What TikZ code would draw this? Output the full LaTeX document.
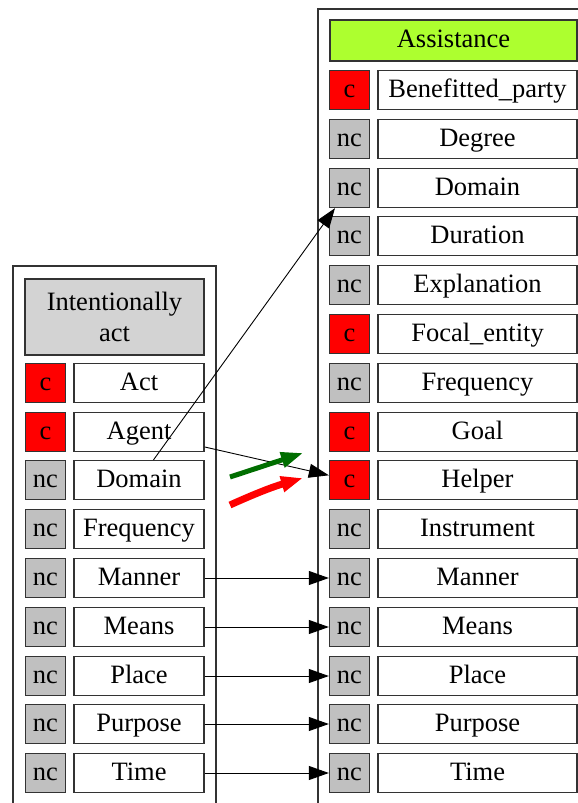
\documentclass[tikz,border=0pt]{standalone}
\usepackage{fontspec}
\setmainfont{Liberation Serif}
\usetikzlibrary{arrows.meta}
\pgfdeclarelayer{framelayer}
\pgfdeclarelayer{nodelayer}
\pgfdeclarelayer{edgelayer}
\pgfsetlayers{framelayer,nodelayer,edgelayer,main}
\definecolor{tag gray}{RGB}{192,192,192}
\definecolor{head gray}{RGB}{211,211,211}
\definecolor{head green}{RGB}{173,255,47}
\definecolor{mark green}{RGB}{0,110,0}
\tikzstyle{frame}=[draw=black!80, line width=1.3pt]
\tikzstyle{field}=[fill=white, draw=black!80, line width=1.3pt, shape=rectangle, inner sep=0pt, minimum height=39pt, text height=18.5pt, text depth=4.5pt, font=\fontsize{26.5}{31}\selectfont]
\tikzstyle{left field}=[field, minimum width=130pt]
\tikzstyle{right field}=[field, minimum width=199pt]
\tikzstyle{c tag}=[field, fill=red, minimum width=40pt]
\tikzstyle{nc tag}=[field, fill=tag gray, minimum width=40pt]
\tikzstyle{role edge}=[draw=black, line width=0.9pt, -{Triangle[length=20pt,width=14pt]}]
\tikzstyle{mark arrow}=[line width=5pt, -{Triangle[length=22pt,width=15pt]}]

\begin{document}
\begin{tikzpicture}[x=1pt, y=-1pt]
	\useasboundingbox (0,0) rectangle (578,803);
	\begin{pgfonlayer}{framelayer}
		\draw [style=frame] (13,266) rectangle (216,830);
		\draw [style=frame] (318,9) rectangle (600,830);
	\end{pgfonlayer}
	\begin{pgfonlayer}{nodelayer}
		% Assistance
		\node [style=field, fill=head green, minimum width=247pt, minimum height=41pt] (assist) at (453.5, 40.5) {Assistance};
		\node [style=c tag] (rt-benefit) at (349.5, 90) {c};
		\node [style=right field] (r-benefit) at (477.5, 90) {Benefitted\_party};
		\node [style=nc tag] (rt-degree) at (349.5, 139) {nc};
		\node [style=right field] (r-degree) at (477.5, 139) {Degree};
		\node [style=nc tag] (rt-domain) at (349.5, 188) {nc};
		\node [style=right field] (r-domain) at (477.5, 188) {Domain};
		\node [style=nc tag] (rt-duration) at (349.5, 236) {nc};
		\node [style=right field] (r-duration) at (477.5, 236) {Duration};
		\node [style=nc tag] (rt-explain) at (349.5, 285) {nc};
		\node [style=right field] (r-explain) at (477.5, 285) {Explanation};
		\node [style=c tag] (rt-focal) at (349.5, 334) {c};
		\node [style=right field] (r-focal) at (477.5, 334) {Focal\_entity};
		\node [style=nc tag] (rt-freq) at (349.5, 383) {nc};
		\node [style=right field] (r-freq) at (477.5, 383) {Frequency};
		\node [style=c tag] (rt-goal) at (349.5, 432) {c};
		\node [style=right field] (r-goal) at (477.5, 432) {Goal};
		\node [style=c tag] (rt-helper) at (349.5, 480) {c};
		\node [style=right field] (r-helper) at (477.5, 480) {Helper};
		\node [style=nc tag] (rt-instr) at (349.5, 529) {nc};
		\node [style=right field] (r-instr) at (477.5, 529) {Instrument};
		\node [style=nc tag] (rt-manner) at (349.5, 578) {nc};
		\node [style=right field] (r-manner) at (477.5, 578) {Manner};
		\node [style=nc tag] (rt-means) at (349.5, 627) {nc};
		\node [style=right field] (r-means) at (477.5, 627) {Means};
		\node [style=nc tag] (rt-place) at (349.5, 676) {nc};
		\node [style=right field] (r-place) at (477.5, 676) {Place};
		\node [style=nc tag] (rt-purpose) at (349.5, 724) {nc};
		\node [style=right field] (r-purpose) at (477.5, 724) {Purpose};
		\node [style=nc tag] (rt-time) at (349.5, 773) {nc};
		\node [style=right field] (r-time) at (477.5, 773) {Time};
		% Intentionally act
		\node [style=field, fill=head gray, minimum width=179pt, minimum height=76pt, align=center, text height=, text depth=] (intact) at (114.5, 317) {Intentionally\\act};
		\node [style=c tag] (lt-act) at (45.5, 383) {c};
		\node [style=left field] (l-act) at (139, 383) {Act};
		\node [style=c tag] (lt-agent) at (45.5, 432) {c};
		\node [style=left field] (l-agent) at (139, 432) {Agent};
		\node [style=nc tag] (lt-domain) at (45.5, 480) {nc};
		\node [style=left field] (l-domain) at (139, 480) {Domain};
		\node [style=nc tag] (lt-freq) at (45.5, 529) {nc};
		\node [style=left field] (l-freq) at (139, 529) {Frequency};
		\node [style=nc tag] (lt-manner) at (45.5, 578) {nc};
		\node [style=left field] (l-manner) at (139, 578) {Manner};
		\node [style=nc tag] (lt-means) at (45.5, 627) {nc};
		\node [style=left field] (l-means) at (139, 627) {Means};
		\node [style=nc tag] (lt-place) at (45.5, 676) {nc};
		\node [style=left field] (l-place) at (139, 676) {Place};
		\node [style=nc tag] (lt-purpose) at (45.5, 724) {nc};
		\node [style=left field] (l-purpose) at (139, 724) {Purpose};
		\node [style=nc tag] (lt-time) at (45.5, 773) {nc};
		\node [style=left field] (l-time) at (139, 773) {Time};
		\coordinate (g0) at (230, 477);
		\coordinate (g1) at (303, 453);
		\coordinate (red0) at (230, 505);
		\coordinate (red1) at (303, 478);
	\end{pgfonlayer}
	\begin{pgfonlayer}{edgelayer}
		\draw [style=role edge] (l-domain) to (rt-domain);
		\draw [style=role edge] (l-agent) to (rt-helper);
		\draw [style=role edge] (l-manner) to (rt-manner);
		\draw [style=role edge] (l-means) to (rt-means);
		\draw [style=role edge] (l-place) to (rt-place);
		\draw [style=role edge] (l-purpose) to (rt-purpose);
		\draw [style=role edge] (l-time) to (rt-time);
		\draw [style=mark arrow, mark green] (g0) to (g1);
		\draw [style=mark arrow, red, line width=7pt, bend left=4] (red0) to (red1);
	\end{pgfonlayer}
\end{tikzpicture}
\end{document}
